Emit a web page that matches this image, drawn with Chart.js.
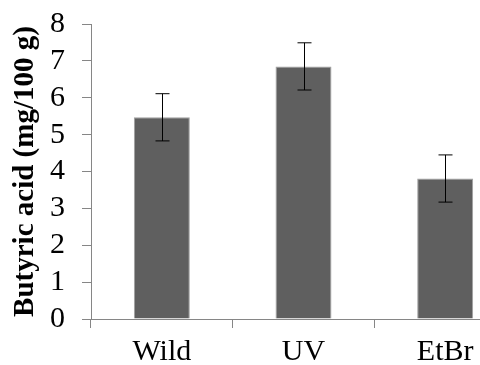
<!DOCTYPE html>
<html>
<head>
<meta charset="utf-8">
<script src="https://cdn.jsdelivr.net/npm/chart.js@4"></script>
<style>
    html, body { margin: 0; padding: 0; background: #fff; overflow: hidden; }
    #wrap { width: 480px; height: 365px; overflow: hidden; }
</style>
</head>
<body>
<div id="wrap"><canvas id="acidChart" width="520" height="365"></canvas></div>
<script>
// data
const categories = ['Wild', 'UV', 'EtBr'];
const acidValues = [5.47, 6.85, 3.81];
const acidErrors = [0.64, 0.64, 0.64];
const yTicks = [0, 1, 2, 3, 4, 5, 6, 7, 8];

const axisGray = '#868686';
const serif = "'Liberation Serif', 'Times New Roman', serif";

// simple error bars drawn through the y scale
const errorBars = {
    id: 'errorBars',
    afterDatasetsDraw(chart) {
        const ctx = chart.ctx;
        const yScale = chart.scales.y;
        const meta = chart.getDatasetMeta(0);
        ctx.save();
        ctx.strokeStyle = '#000';
        ctx.lineWidth = 1;
        meta.data.forEach((bar, i) => {
            const x = Math.round(bar.x) + 0.5;
            const top = yScale.getPixelForValue(acidValues[i] + acidErrors[i]);
            const bottom = yScale.getPixelForValue(acidValues[i] - acidErrors[i]);
            ctx.beginPath();
            ctx.moveTo(x, top);
            ctx.lineTo(x, bottom);
            ctx.moveTo(x - 7, top);
            ctx.lineTo(x + 7, top);
            ctx.moveTo(x - 7, bottom);
            ctx.lineTo(x + 7, bottom);
            ctx.stroke();
        });
        ctx.restore();
    }
};

new Chart(document.getElementById('acidChart'), {
    type: 'bar',
    data: {
        labels: categories,
        datasets: [{
            data: acidValues,
            backgroundColor: '#5f5f5f',
            borderColor: '#a0a0a0',
            borderWidth: 1,
            categoryPercentage: 1,
            barPercentage: 0.395
        }]
    },
    options: {
        responsive: false,
        animation: false,
        layout: { padding: { top: 24, right: 4, bottom: 0, left: 0 } },
        plugins: {
            legend: { display: false },
            tooltip: { enabled: false }
        },
        scales: {
            x: {
                afterFit(scale) {
                    scale.height = 46;
                    scale.paddingLeft = 0;
                    scale.paddingRight = 0;
                },
                grid: {
                    offset: true,
                    drawOnChartArea: false,
                    tickLength: 9,
                    color: axisGray
                },
                border: { color: axisGray },
                ticks: {
                    color: '#000',
                    padding: 6,
                    font: { family: serif, size: 30 }
                }
            },
            y: {
                min: 0,
                max: 8,
                afterFit(scale) {
                    scale.width = 91;
                    scale.paddingTop = 0;
                    scale.paddingBottom = 0;
                },
                afterBuildTicks(scale) {
                    scale.ticks = yTicks.map(v => ({ value: v }));
                },
                grid: {
                    drawOnChartArea: false,
                    tickLength: 9,
                    color: axisGray
                },
                border: { color: axisGray },
                ticks: {
                    autoSkip: false,
                    color: '#000',
                    padding: 17,
                    font: { family: serif, size: 30 }
                },
                title: {
                    display: true,
                    text: 'Butyric acid (mg/100 g)',
                    color: '#000',
                    padding: { top: 8, bottom: 0 },
                    font: { family: serif, size: 29, weight: 'bold' }
                }
            }
        }
    },
    plugins: [errorBars]
});
</script>
</body>
</html>
